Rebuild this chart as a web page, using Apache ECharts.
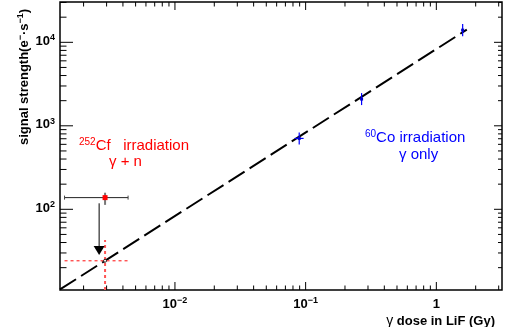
<!DOCTYPE html>
<html><head><meta charset="utf-8">
<script src="https://cdn.jsdelivr.net/npm/echarts@6/dist/echarts.min.js"></script>
<style>html,body{margin:0;padding:0;background:#fff}#c{width:512px;height:327px}</style>
</head><body><div id="c"></div>
<script>
// axis ranges
const xRange = [0.00132, 3.18];
const yRange = [10.8, 30400];
// 60Co irradiation (gamma only)
const coDose = [0.0893, 0.268, 1.59];
const coDoseLow = [0.0825, 0.263, 1.56];
const coDoseHigh = [0.0965, 0.273, 1.62];
const coSignal = [706, 2090, 14000];
const coSignalLow = [598, 1771, 11860];
const coSignalHigh = [833, 2466, 16520];
// 252Cf irradiation (gamma + n), measured
const cfDose = [0.00292];
const cfDoseLow = [0.00143];
const cfDoseHigh = [0.00438];
const cfSignal = [138];
const cfSignalLow = [113];
const cfSignalHigh = [158];
// 252Cf corrected (gamma part)
const corrDose = [0.00292];
const corrDoseLow = [0.00143];
const corrDoseHigh = [0.00438];
const corrSignal = [24.2];
const corrSignalLow = [9];
const corrSignalHigh = [42.9];
// fit line
const fitDose = [0.00132, 1.71];
const fitSignal = [10.96, 14190];
// arrow
const arrowDose = [0.00263];
const arrowFrom = [118];
const arrowTo = [28.4];
// tick labels
const xMajorTicks = [0.01, 0.1, 1];
const xTickLabels = ['{b|10}{s|\u22122}', '{b|10}{s|\u22121}', '{b|1}'];
const yMajorTicks = [100, 1000, 10000];
const yTickLabels = ['{b|10}{s|2}', '{b|10}{s|3}', '{b|10}{s|4}'];

const FONT = 'Liberation Sans, Arial, Helvetica, sans-serif';
const labelRich = {
  b: {fontSize: 13, fontWeight: 'bold', fontFamily: FONT, lineHeight: 16, color: '#000'},
  s: {fontSize: 9, fontWeight: 'bold', fontFamily: FONT, lineHeight: 10, verticalAlign: 'top', color: '#000'}
};

function ticksIn(range) {
  const out = [];
  const lo = Math.floor(Math.log10(range[0])), hi = Math.ceil(Math.log10(range[1]));
  for (let e = lo; e <= hi; e++) {
    for (let m = 1; m <= 9; m++) {
      const v = m * Math.pow(10, e);
      if (v >= range[0] && v <= range[1]) out.push([v, m === 1 ? 1 : 0]);
    }
  }
  return out;
}
const xTicks = ticksIn(xRange);
const yTicks = ticksIn(yRange);

function line(x1, y1, x2, y2, style) {
  return {type: 'line', shape: {x1, y1, x2, y2}, style};
}

const chart = echarts.init(document.getElementById('c'), null, {renderer: 'canvas'});
chart.setOption({
  animation: false,
  backgroundColor: '#fff',
  grid: {left: 60, right: 10, top: 2, bottom: 37, show: true, borderColor: '#000', borderWidth: 1.5, containLabel: false},
  xAxis: {type: 'log', logBase: 10, min: xRange[0], max: xRange[1],
    axisLine: {show: false}, axisTick: {show: false}, axisLabel: {show: false}, splitLine: {show: false}},
  yAxis: {type: 'log', logBase: 10, min: yRange[0], max: yRange[1],
    axisLine: {show: false}, axisTick: {show: false}, axisLabel: {show: false}, splitLine: {show: false}},
  graphic: [
    {type: 'text', x: 24, y: 77, rotation: Math.PI / 2,
      style: {text: '{t|signal strength(e}{s|\u2212}{t|\u00b7s}{s|\u22121}{t|)}', align: 'center', verticalAlign: 'middle',
        rich: {t: {fontSize: 13, fontWeight: 'bold', fontFamily: FONT, lineHeight: 16, fill: '#000'},
               s: {fontSize: 9, fontWeight: 'bold', fontFamily: FONT, lineHeight: 10, verticalAlign: 'top', fill: '#000'}}}},
    {type: 'text', x: 495, y: 321,
      style: {text: '{g|\u03b3}{t| dose in LiF (Gy)}', align: 'right', verticalAlign: 'middle',
        rich: {g: {fontSize: 14, fontFamily: FONT, lineHeight: 16, fill: '#000'},
               t: {fontSize: 13, fontWeight: 'bold', fontFamily: FONT, lineHeight: 16, fill: '#000'}}}},
    {type: 'text', x: 79, y: 146,
      style: {text: '{s|252}{t|Cf   irradiation}', align: 'left', verticalAlign: 'middle',
        rich: {t: {fontSize: 15, fontFamily: FONT, lineHeight: 17, fill: '#ff0000'},
               s: {fontSize: 10, fontFamily: FONT, lineHeight: 10, verticalAlign: 'top', fill: '#ff0000'}}}},
    {type: 'text', x: 109, y: 162,
      style: {text: '\u03b3 + n', align: 'left', verticalAlign: 'middle', fontSize: 15, fontFamily: FONT, fill: '#ff0000'}},
    {type: 'text', x: 365, y: 138,
      style: {text: '{s|60}{t|Co irradiation}', align: 'left', verticalAlign: 'middle',
        rich: {t: {fontSize: 15, fontFamily: FONT, lineHeight: 17, fill: '#0000ff'},
               s: {fontSize: 10, fontFamily: FONT, lineHeight: 10, verticalAlign: 'top', fill: '#0000ff'}}}},
    {type: 'text', x: 399, y: 155,
      style: {text: '\u03b3 only', align: 'left', verticalAlign: 'middle', fontSize: 15, fontFamily: FONT, fill: '#0000ff'}}
  ],
  series: [
    // fit line
    {type: 'line', data: fitDose.map((d, i) => [d, fitSignal[i]]), showSymbol: false, symbol: 'none',
      lineStyle: {color: '#000', width: 2, type: [19, 6]}, z: 3},
    // x ticks (bottom & top)
    {type: 'custom', data: xTicks, z: 5, silent: true,
      renderItem: function (params, api) {
        const cs = params.coordSys;
        const x = api.coord([api.value(0), yRange[0]])[0];
        const len = api.value(1) ? 8 : 4.5;
        const st = {stroke: '#000', lineWidth: 1};
        return {type: 'group', children: [
          line(x, cs.y + cs.height, x, cs.y + cs.height - len, st),
          line(x, cs.y, x, cs.y + len, st)
        ]};
      }},
    // y ticks (left & right)
    {type: 'custom', data: yTicks.map(t => [xRange[0], t[0], t[1]]), z: 5, silent: true,
      renderItem: function (params, api) {
        const cs = params.coordSys;
        const y = api.coord([xRange[0], api.value(1)])[1];
        const major = api.value(2);
        const st = {stroke: '#000', lineWidth: 1};
        return {type: 'group', children: [
          line(cs.x, y, cs.x + (major ? 13 : 6.5), y, st),
          line(cs.x + cs.width, y, cs.x + cs.width - (major ? 8 : 4), y, st)
        ]};
      }},
    // x tick labels
    {type: 'custom', data: xMajorTicks.map((v, i) => [v, yRange[0], i]), z: 5, silent: true,
      renderItem: function (params, api) {
        const cs = params.coordSys;
        const x = api.coord([api.value(0), yRange[0]])[0];
        return {type: 'text', x: x, y: cs.y + cs.height + 6,
          style: {text: xTickLabels[api.value(2)], rich: labelRich, align: 'center', verticalAlign: 'top'}};
      }},
    // y tick labels
    {type: 'custom', data: yMajorTicks.map((v, i) => [xRange[0], v, i]), z: 5, silent: true,
      renderItem: function (params, api) {
        const cs = params.coordSys;
        const y = api.coord([xRange[0], api.value(1)])[1];
        return {type: 'text', x: cs.x - 5, y: y - 1,
          style: {text: yTickLabels[api.value(2)], rich: labelRich, align: 'right', verticalAlign: 'middle'}};
      }},
    // 60Co points with error bars
    {type: 'custom', z: 6, silent: true,
      data: coDose.map((d, i) => [d, coSignal[i], coDoseLow[i], coDoseHigh[i], coSignalLow[i], coSignalHigh[i]]),
      renderItem: function (params, api) {
        const p = api.coord([api.value(0), api.value(1)]);
        const xl = api.coord([api.value(2), api.value(1)])[0];
        const xh = api.coord([api.value(3), api.value(1)])[0];
        const yl = api.coord([api.value(0), api.value(4)])[1];
        const yh = api.coord([api.value(0), api.value(5)])[1];
        const st = {stroke: '#0000ff', lineWidth: 1.2};
        return {type: 'group', children: [
          line(xl, p[1], xh, p[1], st),
          line(p[0], yl, p[0], yh, st),
          {type: 'rect', shape: {x: p[0] - 1.5, y: p[1] - 1.5, width: 3, height: 3}, style: {fill: '#0000cc'}}
        ]};
      }},
    // 252Cf measured
    {type: 'custom', z: 6, silent: true,
      data: cfDose.map((d, i) => [d, cfSignal[i], cfDoseLow[i], cfDoseHigh[i], cfSignalLow[i], cfSignalHigh[i]]),
      renderItem: function (params, api) {
        const p = api.coord([api.value(0), api.value(1)]);
        const xl = api.coord([api.value(2), api.value(1)])[0];
        const xh = api.coord([api.value(3), api.value(1)])[0];
        const yl = api.coord([api.value(0), api.value(4)])[1];
        const yh = api.coord([api.value(0), api.value(5)])[1];
        return {type: 'group', children: [
          line(xl, p[1], xh, p[1], {stroke: '#222', lineWidth: 1}),
          line(xl, p[1] - 2, xl, p[1] + 2, {stroke: '#444', lineWidth: 1}),
          line(xh, p[1] - 2, xh, p[1] + 2, {stroke: '#444', lineWidth: 1}),
          line(p[0], yl, p[0], yh, {stroke: '#777', lineWidth: 2}),
          {type: 'rect', shape: {x: p[0] - 2.5, y: p[1] - 2.5, width: 5, height: 5}, style: {fill: '#ff0000'}}
        ]};
      }},
    // 252Cf corrected (dotted)
    {type: 'custom', z: 6, silent: true, clip: true,
      data: corrDose.map((d, i) => [d, corrSignal[i], corrDoseLow[i], corrDoseHigh[i], corrSignalLow[i], corrSignalHigh[i]]),
      renderItem: function (params, api) {
        const cs = params.coordSys;
        const p = api.coord([api.value(0), api.value(1)]);
        const xl = api.coord([api.value(2), api.value(1)])[0];
        const xh = api.coord([api.value(3), api.value(1)])[0];
        const yl = Math.min(api.coord([api.value(0), api.value(4)])[1], cs.y + cs.height);
        const yh = api.coord([api.value(0), api.value(5)])[1];
        const st = {stroke: '#ff4444', lineWidth: 1.3, lineDash: [3, 3]};
        return {type: 'group', children: [
          line(xl, p[1], xh, p[1], st),
          line(p[0], yl, p[0], yh, {stroke: '#ff5555', lineWidth: 2, lineDash: [3, 3]}),
          {type: 'circle', shape: {cx: p[0], cy: p[1], r: 1.5}, style: {fill: '#fff', stroke: '#000', lineWidth: 0.8}}
        ]};
      }},
    // arrow
    {type: 'custom', z: 7, silent: true,
      data: arrowDose.map((d, i) => [d, arrowFrom[i], arrowTo[i]]),
      renderItem: function (params, api) {
        const a = api.coord([api.value(0), api.value(1)]);
        const b = api.coord([api.value(0), api.value(2)]);
        return {type: 'group', children: [
          line(a[0], a[1], b[0], b[1] - 8, {stroke: '#000', lineWidth: 1}),
          {type: 'polygon', shape: {points: [[b[0] - 5.5, b[1] - 9], [b[0] + 5.5, b[1] - 9], [b[0], b[1]]]}, style: {fill: '#000'}}
        ]};
      }}
  ]
});
</script></body></html>
